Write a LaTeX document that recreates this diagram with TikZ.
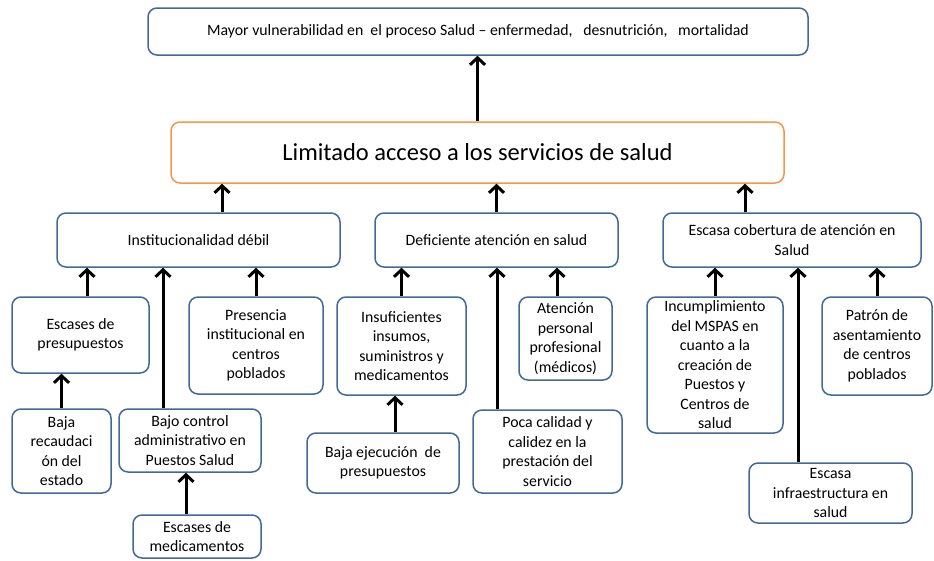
\documentclass[tikz,border=0pt]{standalone}
\usepackage{fontspec}
\setmainfont{Carlito}
\usetikzlibrary{arrows.meta}
\definecolor{borde}{HTML}{41699A}
\definecolor{naranja}{HTML}{F79646}
\begin{document}
\begin{tikzpicture}[x=1pt,y=-1pt,
    caja/.style={draw=borde,line width=1.5pt,rounded corners=9pt,align=center,inner sep=0pt,
      font=\fontsize{15.8}{19.5}\selectfont},
    flecha/.style={-{Straight Barb[length=7pt,width=15pt]},line width=3pt}]
  \useasboundingbox (0,0) rectangle (934,560);
  % efecto y problema central
  \node[caja,minimum width=660,minimum height=47] (efecto) at (478,31.5)
    {Mayor vulnerabilidad en\ \ el proceso Salud -- enfermedad,\ \ \ desnutrición,\ \ \ mortalidad};
  \node[caja,draw=naranja,minimum width=613,minimum height=61,font=\fontsize{24.5}{28}\selectfont] (problema) at (477.5,152.5)
    {Limitado acceso a los servicios de salud};
  % causas directas
  \node[caja,minimum width=283,minimum height=54] (inst) at (198.5,240) {Institucionalidad débil};
  \node[caja,minimum width=243,minimum height=54] (defi) at (496.5,240) {Deficiente atención en salud};
  \node[caja,minimum width=258,minimum height=54] (cober) at (792,240) {Escasa cobertura de atención en\\Salud};
  % causas indirectas
  \node[caja,minimum width=137,minimum height=76] (escpres) at (80.5,335) {Escases de\\presupuestos};
  \node[caja,minimum width=134,minimum height=97] (presencia) at (256,345.5) {Presencia\\institucional en\\centros\\poblados};
  \node[caja,minimum width=99,minimum height=84] (recaud) at (61.5,451) {Baja\\recaudaci\\ón del\\estado};
  \node[caja,minimum width=142,minimum height=63] (control) at (190,440.5) {Bajo control\\administrativo en\\Puestos Salud};
  \node[caja,minimum width=128,minimum height=43] (escmed) at (197,536.5) {Escases de\\medicamentos};
  \node[caja,minimum width=129,minimum height=98] (insumos) at (401.5,346) {Insuficientes\\insumos,\\suministros y\\medicamentos};
  \node[caja,minimum width=93,minimum height=83] (personal) at (565.5,338.5) {Atención\\personal\\profesional\\(médicos)};
  \node[caja,minimum width=152,minimum height=60] (ejecucion) at (383,463) {Baja ejecución\ \ de\\presupuestos};
  \node[caja,minimum width=149,minimum height=83] (calidad) at (547.5,451.5) {Poca calidad y\\calidez en la\\prestación del\\servicio};
  \node[caja,minimum width=136,minimum height=136] (mspas) at (715,365) {Incumplimiento\\del MSPAS en\\cuanto a la\\creación de\\Puestos y\\Centros de\\salud};
  \node[caja,minimum width=110,minimum height=98] (patron) at (877,346) {Patrón de\\asentamiento\\de centros\\poblados};
  \node[caja,minimum width=163,minimum height=60] (infra) at (830.5,493) {Escasa\\infraestructura en\\salud};
  % flechas
  \draw[flecha] (problema.north) -- (problema.north |- efecto.south);
  \draw[flecha] ([xshift=23.5pt]inst.north) -- ([xshift=23.5pt]inst.north |- problema.south);
  \draw[flecha] (defi.north) -- (defi.north |- problema.south);
  \draw[flecha] ([xshift=-47pt]cober.north) -- ([xshift=-47pt]cober.north |- problema.south);
  \draw[flecha] ([xshift=6.5pt]escpres.north) -- ([xshift=6.5pt]escpres.north |- inst.south);
  \draw[flecha] (presencia.north) -- (presencia.north |- inst.south);
  \draw[flecha] ([xshift=-27pt]control.north) -- ([xshift=-27pt]control.north |- inst.south);
  \draw[flecha] (recaud.north) -- (recaud.north |- escpres.south);
  \draw[flecha] ([xshift=-11pt]escmed.north) -- ([xshift=-11pt]escmed.north |- control.south);
  \draw[flecha] (insumos.north) -- (insumos.north |- defi.south);
  \draw[flecha] ([xshift=-8.5pt]personal.north) -- ([xshift=-8.5pt]personal.north |- defi.south);
  \draw[flecha] ([xshift=12pt]ejecucion.north) -- ([xshift=12pt]ejecucion.north |- insumos.south);
  \draw[flecha] ([xshift=-50.5pt]calidad.north) -- ([xshift=-50.5pt]calidad.north |- defi.south);
  \draw[flecha] (mspas.north) -- (mspas.north |- cober.south);
  \draw[flecha] (patron.north) -- (patron.north |- cober.south);
  \draw[flecha] ([xshift=-32.5pt]infra.north) -- ([xshift=-32.5pt]infra.north |- cober.south);
\end{tikzpicture}
\end{document}
